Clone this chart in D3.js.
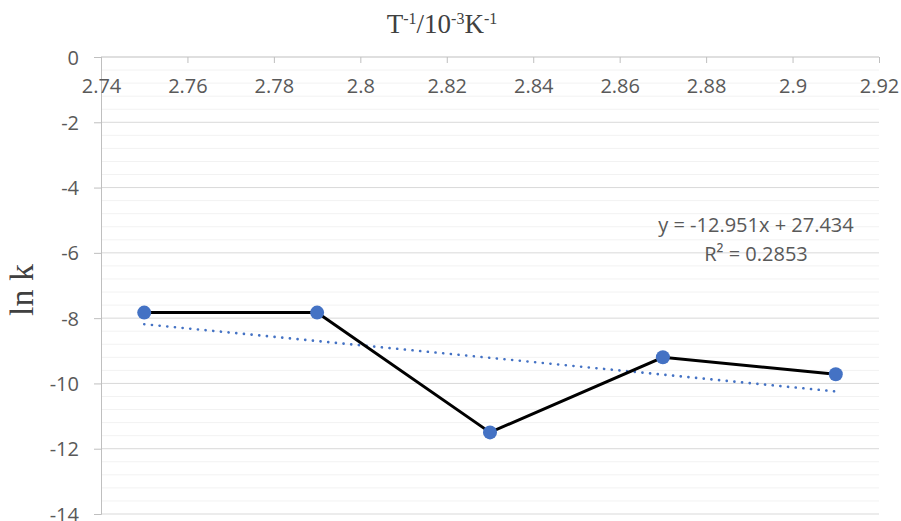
<!DOCTYPE html>
<html>
<head>
<meta charset="utf-8">
<script src="https://cdn.jsdelivr.net/npm/d3@7"></script>
<style>
  body { margin: 0; background: #fff; }
  svg text { font-family: "Open Sans", sans-serif; }
</style>
</head>
<body>
<div id="chart"></div>
<script>
// data
const xValues = [2.75, 2.79, 2.83, 2.87, 2.91];
const lnK = [-7.83, -7.83, -11.5, -9.2, -9.72];
const xTicks = [2.74, 2.76, 2.78, 2.8, 2.82, 2.84, 2.86, 2.88, 2.9, 2.92];
const yTicks = [0, -2, -4, -6, -8, -10, -12, -14];
const trendLabel = ['y = -12.951x + 27.434', 'R² = 0.2853'];

const W = 901, H = 521;
const margin = { top: 57, right: 22, bottom: 7, left: 101 };
const width = W - margin.left - margin.right;
const height = H - margin.top - margin.bottom;

const svg = d3.select('#chart').append('svg')
    .attr('width', W).attr('height', H);

const g = svg.append('g')
    .attr('transform', `translate(${margin.left},${margin.top})`);

const x = d3.scaleLinear().domain([2.74, 2.92]).range([0, width]);
const y = d3.scaleLinear().domain([-14, 0]).range([height, 0]);

// minor gridlines (every 0.4)
const minor = d3.range(0, 35).map(i => -i * 0.4).filter(v => Math.abs(v / 2 - Math.round(v / 2)) > 1e-6);
g.selectAll('.minor').data(minor).join('line')
    .attr('x1', 0).attr('x2', width)
    .attr('y1', d => y(d)).attr('y2', d => y(d))
    .attr('stroke', '#f2f2f2').attr('stroke-width', 1);

// major gridlines
g.selectAll('.major').data(yTicks.filter(d => d !== 0)).join('line')
    .attr('x1', 0).attr('x2', width)
    .attr('y1', d => y(d)).attr('y2', d => y(d))
    .attr('stroke', '#d9d9d9').attr('stroke-width', 1);

// y axis
const yAxis = g.append('g')
    .call(d3.axisLeft(y).tickValues(yTicks).tickSize(7).tickPadding(15).tickFormat(d3.format('d')));
yAxis.select('.domain').attr('stroke', '#bfbfbf');
yAxis.selectAll('.tick line').attr('stroke', '#bfbfbf');
yAxis.selectAll('.tick text').attr('fill', '#595959').style('font-size', '20px')
    .attr('dy', '0.35em')
    .text(d => d < 0 ? '-' + Math.abs(d) : d);

// x axis sits at y = 0, ticks pointing down into the plot
const xAxis = g.append('g')
    .attr('transform', `translate(0,${y(0)})`)
    .call(d3.axisBottom(x).tickValues(xTicks).tickSize(6).tickPadding(16).tickFormat(d => String(+d.toFixed(2))));
xAxis.select('.domain').attr('stroke', '#bfbfbf').attr('d', `M0,0H${width}`);
xAxis.selectAll('.tick line').attr('stroke', '#bfbfbf');
xAxis.selectAll('.tick text').attr('fill', '#595959').style('font-size', '20px');

// linear trendline from least squares
const mx = d3.mean(xValues), my = d3.mean(lnK);
const slope = d3.sum(xValues, (v, i) => (v - mx) * (lnK[i] - my)) / d3.sum(xValues, v => (v - mx) ** 2);
const icept = my - slope * mx;
const xExt = d3.extent(xValues);

g.append('line')
    .attr('x1', x(xExt[0])).attr('y1', y(slope * xExt[0] + icept))
    .attr('x2', x(xExt[1])).attr('y2', y(slope * xExt[1] + icept))
    .attr('stroke', '#4472c4').attr('stroke-width', 2.6)
    .attr('stroke-linecap', 'round').attr('stroke-dasharray', '0.1 7.6');

// data line
const pts = xValues.map((v, i) => ({ x: v, y: lnK[i] }));
g.append('path').datum(pts)
    .attr('fill', 'none').attr('stroke', '#000').attr('stroke-width', 3)
    .attr('d', d3.line().x(d => x(d.x)).y(d => y(d.y)));

g.selectAll('.pt').data(pts).join('circle')
    .attr('cx', d => x(d.x)).attr('cy', d => y(d.y)).attr('r', 7)
    .attr('fill', '#4472c4');

// trendline label
g.append('text')
    .attr('text-anchor', 'middle')
    .attr('fill', '#595959').style('font-size', '20px')
    .selectAll('tspan').data(trendLabel).join('tspan')
    .attr('x', 756 - margin.left)
    .attr('y', (d, i) => 232 - margin.top + i * 28.5)
    .text(d => d);

// axis titles
svg.append('text')
    .attr('x', 442).attr('y', 33).attr('text-anchor', 'middle')
    .style('font-family', '"Liberation Serif", "Times New Roman", serif')
    .style('font-size', '27px').attr('fill', '#404040')
    .html('T<tspan dy="-9" font-size="16px">-1</tspan><tspan dy="9">/10</tspan><tspan dy="-9" font-size="16px">-3</tspan><tspan dy="9">K</tspan><tspan dy="-9" font-size="16px">-1</tspan>');

svg.append('text')
    .attr('transform', 'translate(33,290) rotate(-90)')
    .attr('text-anchor', 'middle')
    .style('font-family', '"Liberation Serif", "Times New Roman", serif')
    .style('font-size', '34px').attr('fill', '#404040')
    .text('ln k');
</script>
</body>
</html>
